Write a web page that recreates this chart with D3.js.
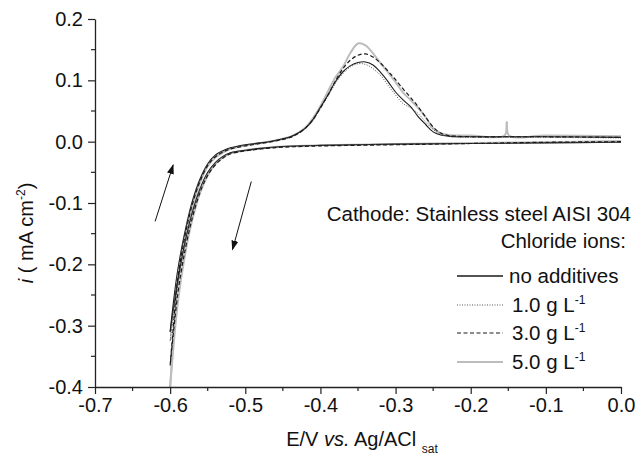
<!DOCTYPE html>
<html>
<head>
<meta charset="utf-8">
<script src="https://cdn.jsdelivr.net/npm/d3@7"></script>
<style>
  body { margin: 0; background: #fff; }
  svg { font-family: "Liberation Sans", Arial, sans-serif; }
</style>
</head>
<body>
<svg id="chart" width="643" height="459"></svg>
<script>
// potentials of the cathodic sweep (0 -> -0.6 V) and of the return sweep (-0.6 -> 0 V)
const eForward = [0.0, -0.10, -0.20, -0.30, -0.40, -0.45, -0.48, -0.50, -0.52, -0.53, -0.54, -0.55, -0.56, -0.57, -0.58, -0.59, -0.60];
const eReturn = [-0.60, -0.595, -0.59, -0.58, -0.57, -0.56, -0.55, -0.54, -0.53, -0.52, -0.50, -0.48, -0.46, -0.44, -0.43,
  -0.42, -0.41, -0.40, -0.39, -0.38, -0.37, -0.36, -0.35, -0.34, -0.33, -0.32, -0.31, -0.30, -0.29, -0.28, -0.27, -0.26,
  -0.25, -0.24, -0.23, -0.22, -0.20, -0.155, -0.152, -0.149, -0.10, 0.0];

// current density, mA cm-2
const fwdNoAdditives = [-0.001, -0.002, -0.003, -0.004, -0.006, -0.008, -0.011, -0.014, -0.018, -0.024, -0.034, -0.050, -0.076, -0.113, -0.163, -0.228, -0.31];
const fwdCl1 = [-0.001, -0.002, -0.003, -0.004, -0.006, -0.008, -0.012, -0.015, -0.019, -0.025, -0.035, -0.052, -0.078, -0.116, -0.168, -0.236, -0.325];
const fwdCl3 = [0.0, -0.001, -0.003, -0.005, -0.007, -0.009, -0.012, -0.015, -0.020, -0.027, -0.038, -0.055, -0.082, -0.122, -0.176, -0.250, -0.365];
const fwdCl5 = [0.001, -0.001, -0.002, -0.004, -0.006, -0.008, -0.011, -0.014, -0.019, -0.026, -0.037, -0.055, -0.083, -0.125, -0.183, -0.265, -0.40];

const retNoAdditives = [-0.31, -0.255, -0.21, -0.145, -0.095, -0.060, -0.036, -0.022, -0.015, -0.010, -0.005, -0.002, 0.002, 0.008, 0.014,
  0.022, 0.036, 0.056, 0.076, 0.098, 0.114, 0.124, 0.129, 0.130, 0.125, 0.113, 0.098, 0.081, 0.068, 0.057, 0.041, 0.028,
  0.016, 0.011, 0.009, 0.008, 0.008, 0.008, 0.008, 0.008, 0.008, 0.007];
const retCl1 = [-0.325, -0.265, -0.215, -0.148, -0.097, -0.062, -0.037, -0.023, -0.016, -0.011, -0.006, -0.003, 0.001, 0.007, 0.013,
  0.021, 0.034, 0.054, 0.074, 0.095, 0.111, 0.122, 0.127, 0.126, 0.119, 0.108, 0.092, 0.076, 0.062, 0.055, 0.046, 0.032,
  0.020, 0.012, 0.009, 0.008, 0.007, 0.007, 0.007, 0.007, 0.007, 0.006];
const retCl3 = [-0.365, -0.29, -0.225, -0.152, -0.100, -0.064, -0.039, -0.025, -0.017, -0.012, -0.007, -0.003, 0.001, 0.007, 0.013,
  0.022, 0.036, 0.055, 0.076, 0.099, 0.119, 0.133, 0.141, 0.143, 0.138, 0.128, 0.115, 0.101, 0.086, 0.072, 0.057, 0.040,
  0.024, 0.014, 0.010, 0.009, 0.008, 0.008, 0.008, 0.008, 0.008, 0.007];
const retCl5 = [-0.40, -0.31, -0.235, -0.158, -0.104, -0.066, -0.040, -0.026, -0.018, -0.012, -0.006, -0.002, 0.002, 0.008, 0.014,
  0.023, 0.038, 0.058, 0.082, 0.105, 0.122, 0.145, 0.160, 0.157, 0.144, 0.128, 0.113, 0.097, 0.080, 0.068, 0.055, 0.040,
  0.022, 0.014, 0.011, 0.010, 0.010, 0.010, 0.032, 0.010, 0.010, 0.009];

const seriesNames = ["no additives", "1.0 g L", "3.0 g L", "5.0 g L"];
const seriesUnitSup = ["", "-1", "-1", "-1"];

const xTicks = [-0.7, -0.6, -0.5, -0.4, -0.3, -0.2, -0.1, 0.0];
const xMinorTicks = [-0.65, -0.55, -0.45, -0.35, -0.25, -0.15, -0.05];
const yTicks = [-0.4, -0.3, -0.2, -0.1, 0.0, 0.1, 0.2];
const yMinorTicks = [-0.35, -0.25, -0.15, -0.05, 0.05, 0.15];

// arrows showing the sweep direction, [E, i] start and tip
const arrowUp = [[-0.620, -0.130], [-0.596, -0.038]];
const arrowDown = [[-0.492, -0.065], [-0.517, -0.176]];

const series = [
  { fwd: fwdNoAdditives, ret: retNoAdditives, color: "#1a1a1a", width: 1.1, dash: null },
  { fwd: fwdCl1, ret: retCl1, color: "#555", width: 1, dash: "1,1.5" },
  { fwd: fwdCl3, ret: retCl3, color: "#1a1a1a", width: 1.2, dash: "4,2.5" },
  { fwd: fwdCl5, ret: retCl5, color: "#bdbdbd", width: 2, dash: null }
];

const svg = d3.select("#chart");
const margin = { top: 19, right: 22, bottom: 72, left: 95 };
const width = +svg.attr("width") - margin.left - margin.right;
const height = +svg.attr("height") - margin.top - margin.bottom;

const x = d3.scaleLinear().domain([-0.7, 0.0]).range([margin.left, margin.left + width]);
const y = d3.scaleLinear().domain([-0.4, 0.2]).range([margin.top + height, margin.top]);

svg.append("defs").append("marker")
  .attr("id", "head")
  .attr("viewBox", "0 0 10 10")
  .attr("refX", 9).attr("refY", 5)
  .attr("markerWidth", 10).attr("markerHeight", 10)
  .attr("markerUnits", "userSpaceOnUse")
  .attr("orient", "auto")
  .append("path")
  .attr("d", "M0,1.5 L10,5 L0,8.5 z")
  .attr("fill", "#111");

// curves: gray one first so the dark ones sit on top
const line = d3.line()
  .x(d => x(d[0]))
  .y(d => y(d[1]))
  .curve(d3.curveCatmullRom.alpha(0.5));

const drawOrder = [3, 0, 1, 2];
drawOrder.forEach(k => {
  const s = series[k];
  const branches = [
    eForward.map((e, j) => [e, s.fwd[j]]),
    eReturn.map((e, j) => [e, s.ret[j]])
  ];
  branches.forEach(pts => {
    svg.append("path")
      .datum(pts)
      .attr("d", line)
      .attr("fill", "none")
      .attr("stroke", s.color)
      .attr("stroke-width", s.width)
      .attr("stroke-dasharray", s.dash)
      .attr("stroke-linejoin", "round");
  });
});

// axes
const axisColor = "#222";
const xAxis = svg.append("g")
  .attr("transform", `translate(0,${margin.top + height})`)
  .call(d3.axisBottom(x).tickValues(xTicks).tickSizeInner(7).tickSizeOuter(0).tickPadding(4).tickFormat(d3.format(".1f")));
svg.append("g")
  .attr("transform", `translate(0,${margin.top + height})`)
  .selectAll("line")
  .data(xMinorTicks)
  .join("line")
  .attr("x1", d => x(d)).attr("x2", d => x(d))
  .attr("y1", 0).attr("y2", 4)
  .attr("stroke", axisColor).attr("stroke-width", 1.2);

const yAxis = svg.append("g")
  .attr("transform", `translate(${margin.left},0)`)
  .call(d3.axisLeft(y).tickValues(yTicks).tickSizeInner(7).tickSizeOuter(0).tickPadding(5).tickFormat(d3.format(".1f")));
svg.append("g")
  .attr("transform", `translate(${margin.left},0)`)
  .selectAll("line")
  .data(yMinorTicks)
  .join("line")
  .attr("y1", d => y(d)).attr("y2", d => y(d))
  .attr("x1", 0).attr("x2", -4)
  .attr("stroke", axisColor).attr("stroke-width", 1.2);

[xAxis, yAxis].forEach(a => {
  a.select(".domain").attr("stroke", axisColor).attr("stroke-width", 1.3);
  a.selectAll(".tick line").attr("stroke", axisColor).attr("stroke-width", 1.2);
  a.selectAll(".tick text")
    .attr("fill", "#111")
    .style("font-size", "20px")
    .style("font-family", "'Liberation Sans', Arial, sans-serif")
    .text(d => d3.format(".1f")(d).replace("−", "-"));
});

// axis titles
const xTitle = svg.append("text")
  .attr("x", 362).attr("y", 446)
  .attr("text-anchor", "middle")
  .attr("fill", "#111")
  .style("font-size", "20px");
xTitle.append("tspan").text("E/V ");
xTitle.append("tspan").style("font-style", "italic").text("vs.");
xTitle.append("tspan").text(" Ag/ACl ");
xTitle.append("tspan").attr("dy", 7).style("font-size", "12px").text("sat");

const yTitle = svg.append("text")
  .attr("transform", `translate(33,${margin.top + height / 2 + 30}) rotate(-90)`)
  .attr("text-anchor", "middle")
  .attr("fill", "#111")
  .style("font-size", "20px");
yTitle.append("tspan").style("font-style", "italic").text("i");
yTitle.append("tspan").text(" ( mA cm");
yTitle.append("tspan").attr("dy", -8).style("font-size", "12px").text("-2");
yTitle.append("tspan").attr("dy", 8).text(")");

// sweep direction arrows
[arrowUp, arrowDown].forEach(a => {
  svg.append("line")
    .attr("x1", x(a[0][0])).attr("y1", y(a[0][1]))
    .attr("x2", x(a[1][0])).attr("y2", y(a[1][1]))
    .attr("stroke", "#111").attr("stroke-width", 1)
    .attr("marker-end", "url(#head)");
});

// legend
svg.append("text")
  .attr("x", 631).attr("y", 221)
  .attr("text-anchor", "end")
  .attr("fill", "#111")
  .style("font-size", "20.5px")
  .text("Cathode: Stainless steel AISI 304");
svg.append("text")
  .attr("x", 626).attr("y", 248)
  .attr("text-anchor", "end")
  .attr("fill", "#111")
  .style("font-size", "20.5px")
  .text("Chloride ions:");

const legendRows = [276, 305, 333, 362];
const legend = svg.append("g");
series.forEach((s, k) => {
  const row = legend.append("g").attr("transform", `translate(457,${legendRows[k]})`);
  row.append("line")
    .attr("x1", 0).attr("x2", 46)
    .attr("stroke", s.color)
    .attr("stroke-width", k === 0 ? 1.3 : s.width)
    .attr("stroke-dasharray", s.dash);
  const t = row.append("text")
    .attr("x", k === 0 ? 52 : 55).attr("y", 7)
    .attr("fill", "#111")
    .style("font-size", "20.5px");
  t.append("tspan").text(seriesNames[k]);
  if (seriesUnitSup[k]) {
    t.append("tspan").attr("dy", -8).style("font-size", "12px").text(seriesUnitSup[k]);
  }
});
</script>
</body>
</html>
